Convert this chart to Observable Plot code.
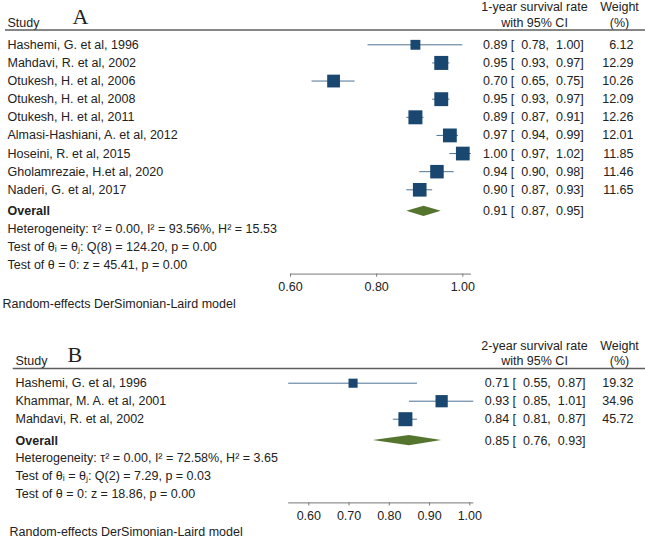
<!DOCTYPE html>
<html><head><meta charset="utf-8">
<script src="https://cdn.jsdelivr.net/npm/d3@7"></script>
<script src="https://cdn.jsdelivr.net/npm/@observablehq/plot@0.6"></script>
<style>
body{margin:0;background:#fff;}
#chart svg{display:block;}
</style></head><body><div id="chart"></div>
<script>
// ---- Panel A: 1-year survival ----
const studiesA = ["Hashemi, G. et al, 1996","Mahdavi, R. et al, 2002","Otukesh, H. et al, 2006","Otukesh, H. et al, 2008","Otukesh, H. et al, 2011","Almasi-Hashiani, A. et al, 2012","Hoseini, R. et al, 2015","Gholamrezaie, H.et al, 2020","Naderi, G. et al, 2017"];
const estA = [0.89,0.95,0.70,0.95,0.89,0.97,1.00,0.94,0.90];
const lowA = [0.78,0.93,0.65,0.93,0.87,0.94,0.97,0.90,0.87];
const highA = [1.00,0.97,0.75,0.97,0.91,0.99,1.02,0.98,0.93];
const weightA = [6.12,12.29,10.26,12.09,12.26,12.01,11.85,11.46,11.65];
const overallA = [0.91,0.87,0.95]; // estimate, low, high
const statsA = ["Heterogeneity: τ² = 0.00, I² = 93.56%, H² = 15.53","Test of θᵢ = θⱼ: Q(8) = 124.20, p = 0.00","Test of θ = 0: z = 45.41, p = 0.00"];
const ticksA = [0.60,0.80,1.00];
const headerA = ["1-year survival rate","with 95% CI"];

// ---- Panel B: 2-year survival ----
const studiesB = ["Hashemi, G. et al, 1996","Khammar, M. A. et al, 2001","Mahdavi, R. et al, 2002"];
const estB = [0.71,0.93,0.84];
const lowB = [0.55,0.85,0.81];
const highB = [0.87,1.01,0.87];
const weightB = [19.32,34.96,45.72];
const overallB = [0.85,0.76,0.93];
const statsB = ["Heterogeneity: τ² = 0.00, I² = 72.58%, H² = 3.65","Test of θᵢ = θⱼ: Q(2) = 7.29, p = 0.03","Test of θ = 0: z = 18.86, p = 0.00"];
const ticksB = [0.60,0.70,0.80,0.90,1.00];
const headerB = ["2-year survival rate","with 95% CI"];

const weightHeader = ["Weight","(%)"];
const modelNote = "Random-effects DerSimonian-Laird model";

const NAVY = "#1a476f", CI = "#4d7394", GREEN = "#55752f", TXT = "#222";
const FONT = "Liberation Sans, Arial, Helvetica, sans-serif";
const fmt = d3.format(".2f");

function forest(p, L) {
  const n = p.studies.length;
  const rows = p.studies.map((s, i) => ({study: s, est: p.est[i], lo: p.low[i], hi: p.high[i], w: p.weight[i], row: i}));
  const oRow = n + 0.19;
  const statRows = p.stats.map((s, i) => ({s, row: n + 1.17 + i * 0.99}));
  const axisRow = n + 3.65, tickRow = n + 4.36, noteRow = n + 5.28;
  const axLo = Math.min(d3.min(p.low), d3.min(p.ticks));
  const axHi = Math.max(d3.max(p.high), d3.max(p.ticks));
  const dh = 0.28;
  const diamond = [
    {x: p.overall[1], y1: oRow, y2: oRow},
    {x: p.overall[0], y1: oRow - dh, y2: oRow + dh},
    {x: p.overall[2], y1: oRow, y2: oRow}
  ];
  const ciText = (e, l, h) => `${fmt(e)} [  ${fmt(l)},  ${fmt(h)}]`;
  const left = {frameAnchor: "left", textAnchor: "start", fill: TXT};
  return Plot.plot({
    width: 645, height: L.height,
    marginLeft: 0, marginRight: 0, marginTop: 0, marginBottom: 0,
    style: {fontFamily: FONT, fontSize: "12.5px", color: TXT, background: "#fff"},
    x: {domain: [0.6, 1.0], range: L.xRange, axis: null},
    y: {domain: [0, n - 1], range: [L.row0, L.row0 + L.step * (n - 1)], axis: null},
    r: {domain: [0, d3.max(p.weight)], range: [0, 7.9]},
    marks: [
      // header
      Plot.text([p.letter], {y: () => -1.55, text: d => d, ...left, dx: L.letterX, fontFamily: "Liberation Serif, Times New Roman, serif", fontSize: 22}),
      Plot.text(["Study"], {y: () => -1.22, text: d => d, ...left, dx: L.textX}),
      Plot.text(p.header, {y: (d, i) => -2.06 + i * 0.85, text: d => d, frameAnchor: "left", textAnchor: "middle", dx: 534, fill: TXT}),
      Plot.text(weightHeader, {y: (d, i) => -2.06 + i * 0.85, text: d => d, frameAnchor: "left", textAnchor: "middle", dx: 619, fill: TXT}),
      Plot.ruleY([-0.81], {y: d => d, insetLeft: L.ruleX, stroke: "#5e5e5e", strokeWidth: 1.5}),
      // studies
      Plot.ruleY(rows, {y: "row", x1: "lo", x2: "hi", stroke: CI, strokeWidth: 1}),
      Plot.dot(rows, {x: "est", y: "row", r: "w", symbol: "square", fill: NAVY, stroke: null}),
      Plot.text(rows, {y: "row", text: "study", ...left, dx: L.textX}),
      Plot.text(rows, {y: "row", text: d => ciText(d.est, d.lo, d.hi), ...left, dx: L.ciX}),
      Plot.text(rows, {y: "row", text: d => fmt(d.w), frameAnchor: "left", textAnchor: "end", dx: 633, fill: TXT}),
      // overall
      Plot.areaY(diamond, {x: "x", y1: "y1", y2: "y2", fill: GREEN}),
      Plot.text(["Overall"], {y: () => oRow, text: d => d, ...left, dx: L.textX, fontWeight: "bold"}),
      Plot.text([p.overall], {y: () => oRow, text: d => ciText(d[0], d[1], d[2]), ...left, dx: L.ciX}),
      Plot.text(statRows, {y: "row", text: "s", ...left, dx: L.textX}),
      // axis
      Plot.ruleY([axisRow], {y: d => d, x1: () => axLo, x2: () => axHi, stroke: "#777", strokeWidth: 1}),
      Plot.ruleX(p.ticks, {x: d => d, y1: () => axisRow, y2: () => axisRow + 0.17, stroke: "#777", strokeWidth: 1}),
      Plot.text(p.ticks, {x: d => d, y: () => tickRow, text: d => fmt(d), fill: TXT}),
      Plot.text([modelNote], {y: () => noteRow, text: d => d, ...left, dx: L.noteX})
    ]
  });
}

const chart = document.getElementById("chart");
chart.append(forest(
  {letter: "A", studies: studiesA, est: estA, low: lowA, high: highA, weight: weightA, overall: overallA, stats: statsA, ticks: ticksA, header: headerA},
  {height: 318, xRange: [290, 462.3], row0: 44.3, step: 18.125, textX: 7, ciX: 482.5, letterX: 72, ruleX: 5, noteX: 2}
));
chart.append(forest(
  {letter: "B", studies: studiesB, est: estB, low: lowB, high: highB, weight: weightB, overall: overallB, stats: statsB, ticks: ticksB, header: headerB},
  {height: 220, xRange: [308.3, 469.3], row0: 64.7, step: 18, textX: 15, ciX: 484.3, letterX: 67, ruleX: 12.7, noteX: 9}
));
</script></body></html>
